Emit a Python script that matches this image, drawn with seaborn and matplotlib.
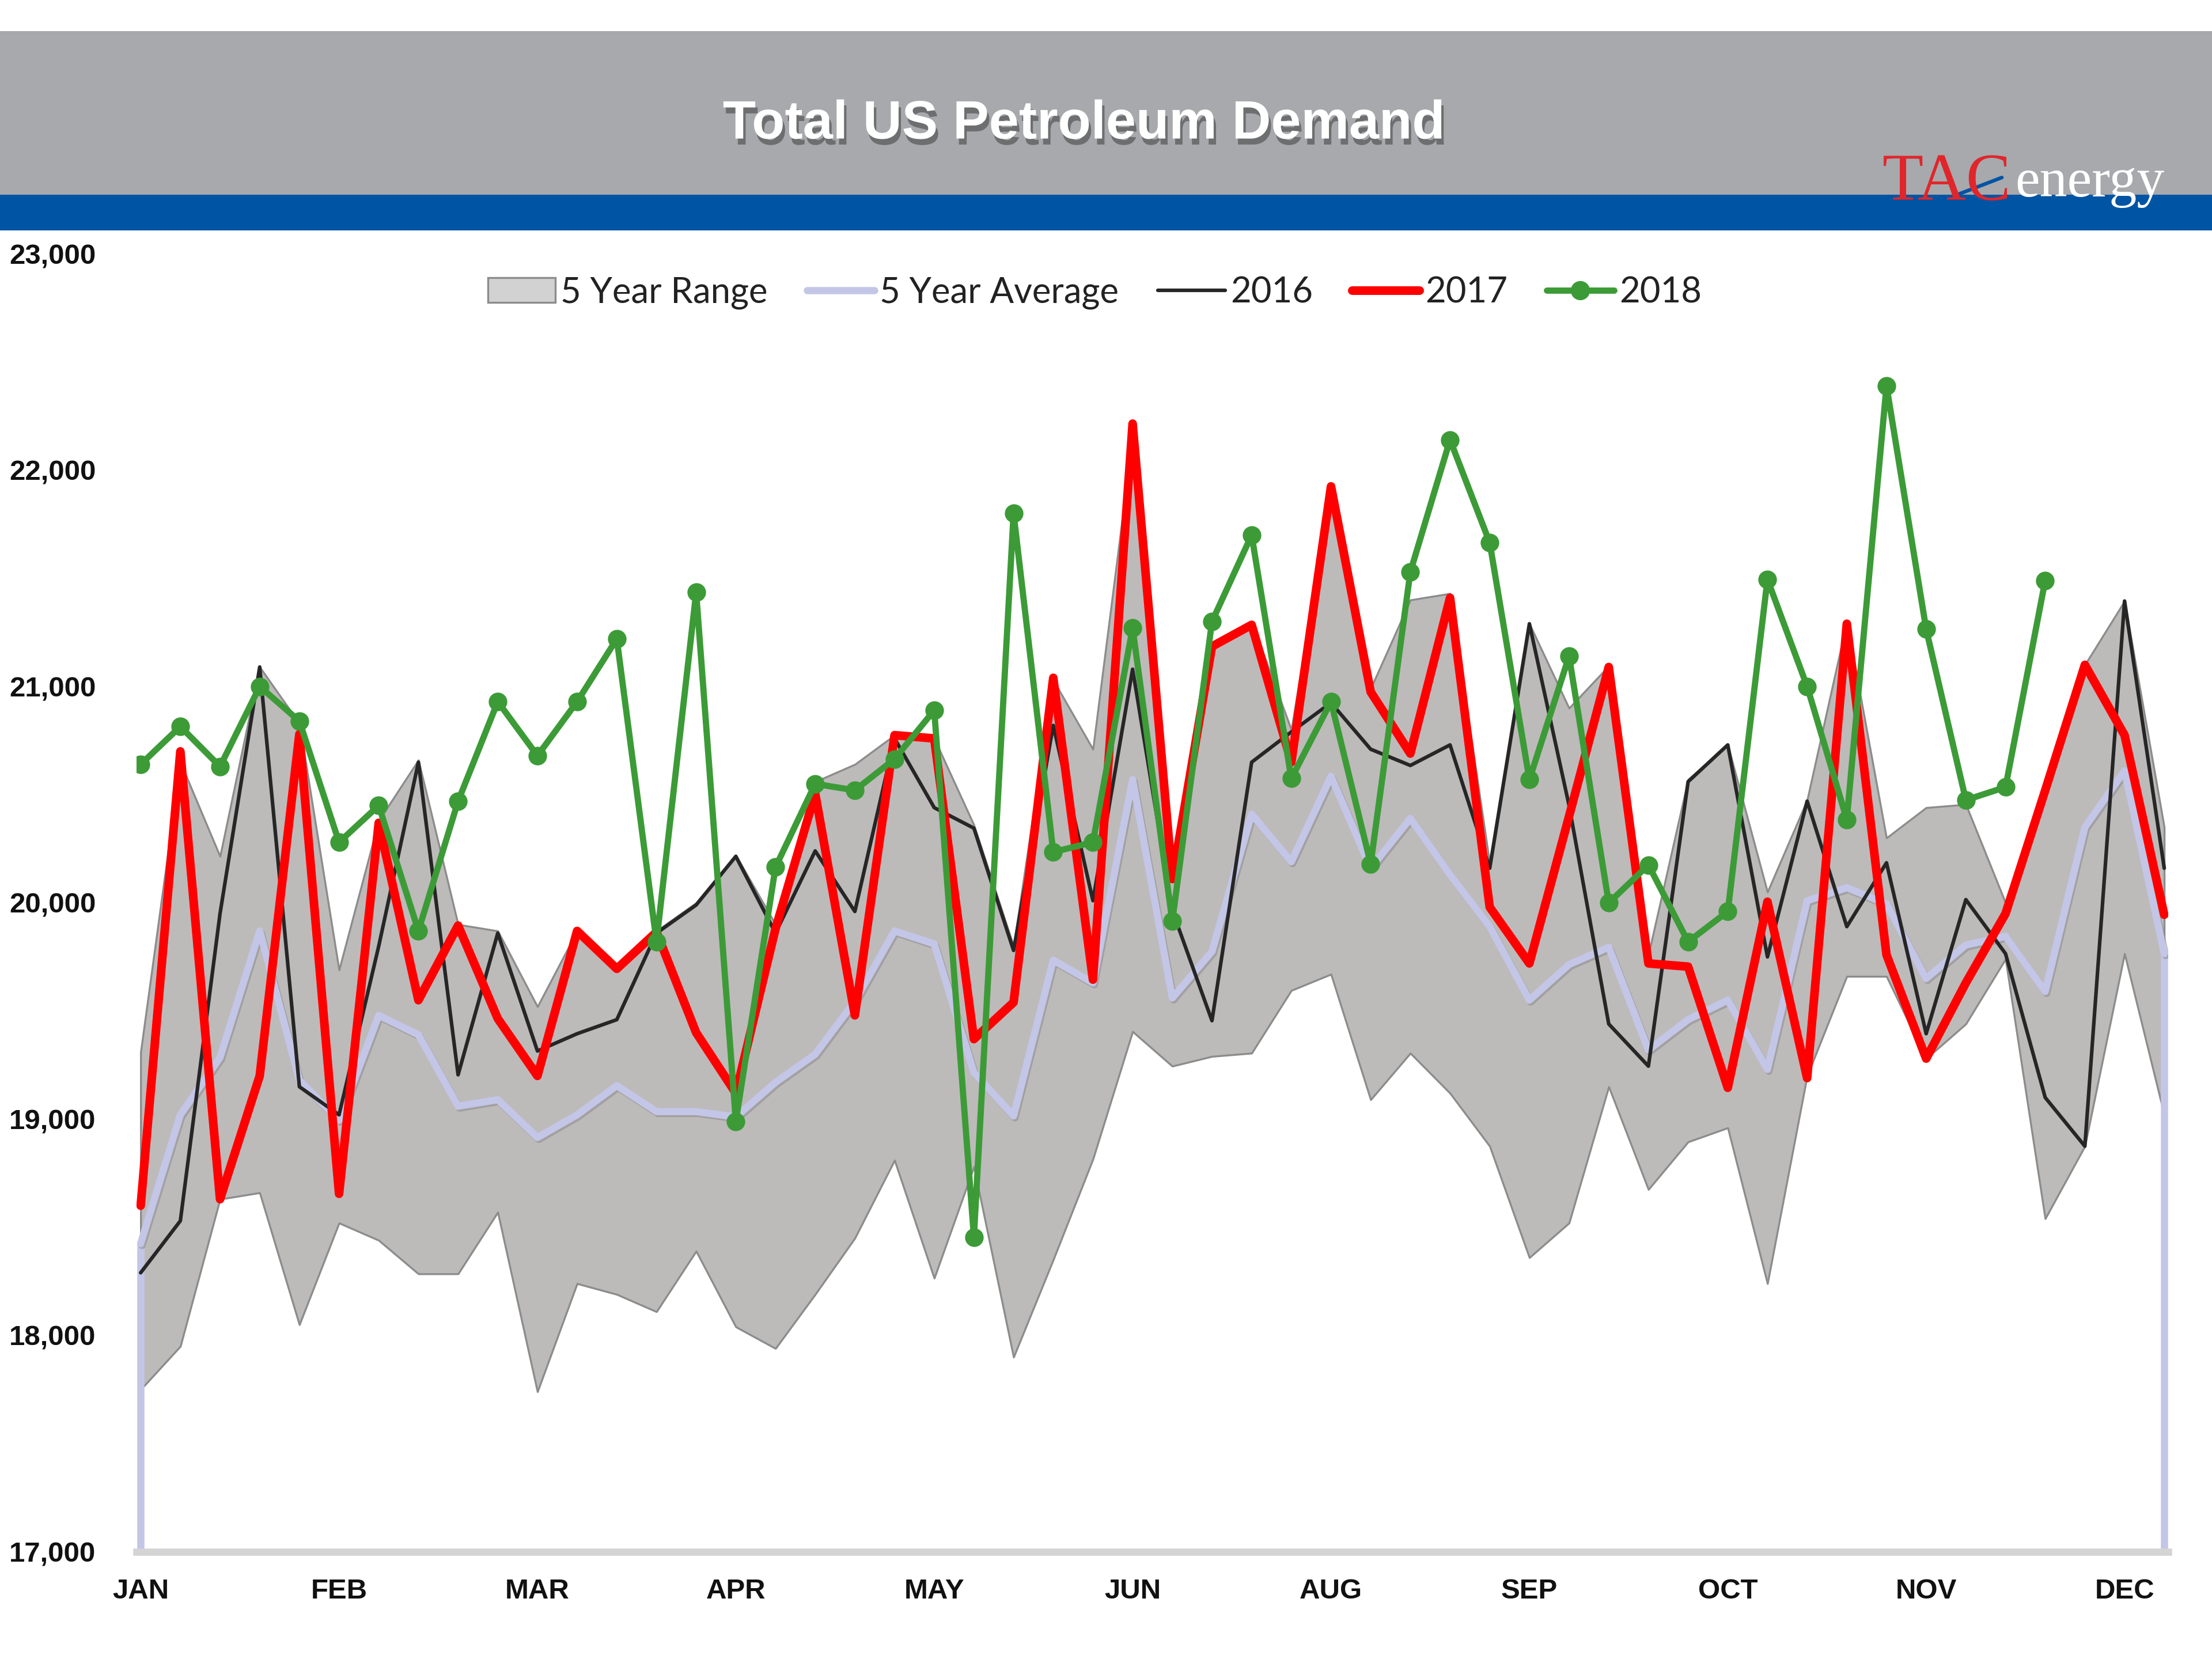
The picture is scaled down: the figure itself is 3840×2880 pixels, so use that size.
import matplotlib.pyplot as plt
import matplotlib.patheffects as pe
import pandas as pd
import seaborn as sns
from matplotlib.lines import Line2D
from matplotlib.patches import Patch, Rectangle
from matplotlib.ticker import FuncFormatter

# weekly data (52 weeks), thousand barrels per day
weeks = list(range(52))
months = ["JAN", "FEB", "MAR", "APR", "MAY", "JUN", "AUG", "SEP", "OCT", "NOV", "DEC"]  # label every 5th week

range_hi = [19310, 20650, 20215, 21090, 20830, 19690, 20380, 20660, 19900, 19870,
            19520, 19870, 19700, 19870, 20000, 20220, 19900, 20560, 20640, 20775,
            20760, 20360, 19800, 21030, 20710, 22150, 20130, 21190, 21300, 20800,
            21920, 20990, 21400, 21430, 20180, 21290, 20900, 21095, 19760, 20570,
            20730, 20050, 20475, 21300, 20300, 20440, 20455, 20000, 20530, 21100,
            21395, 20350]
range_lo = [17750, 17950, 18630, 18660, 18050, 18520, 18440, 18285, 18285, 18570,
            17740, 18240, 18190, 18110, 18390, 18040, 17940, 18190, 18450, 18810,
            18265, 18780, 17900, 18350, 18815, 19405, 19245, 19290, 19305, 19595,
            19670, 19090, 19305, 19120, 18875, 18360, 18520, 19150, 18675, 18895,
            18960, 18240, 19200, 19660, 19660, 19280, 19440, 19740, 18540, 18875,
            19765, 19020]
avg_5yr = [18425, 19020, 19285, 19870, 19180, 18995, 19480, 19390, 19060, 19090,
           18915, 19020, 19155, 19035, 19035, 19010, 19170, 19300, 19545, 19870,
           19810, 19215, 19015, 19735, 19630, 20570, 19560, 19775, 20410, 20190,
           20585, 20160, 20390, 20130, 19890, 19550, 19715, 19795, 19320, 19460,
           19550, 19230, 20010, 20070, 19995, 19650, 19805, 19845, 19590, 20350,
           20610, 19765]
y2016 = [18290, 18530, 19950, 21090, 19150, 19020, 19800, 20650, 19205, 19860,
         19315, 19395, 19460, 19860, 19990, 20215, 19860, 20240, 19960, 20760,
         20440, 20345, 19780, 20820, 20010, 21080, 19965, 19455, 20650, 20790,
         20925, 20710, 20635, 20730, 20160, 21290, 20450, 19440, 19245, 20560,
         20730, 19750, 20470, 19890, 20185, 19395, 20015, 19765, 19100, 18875,
         21395, 20160]
y2017 = [18600, 20700, 18630, 19200, 20780, 18655, 20370, 19550, 19895, 19465,
         19200, 19870, 19695, 19865, 19400, 19120, 19880, 20505, 19480, 20775,
         20760, 19370, 19540, 21040, 19645, 22215, 20110, 21185, 21285, 20650,
         21925, 20975, 20690, 21410, 19980, 19720, 20400, 21090, 19720, 19705,
         19145, 20005, 19190, 21290, 19760, 19280, 19630, 19950, 20520, 21100,
         20775, 19945]
y2018 = [20640, 20815, 20630, 21000, 20840, 20280, 20450, 19870, 20470, 20930,
         20680, 20930, 21220, 19820, 21435, 18990, 20165, 20550, 20520, 20665,
         20890, 18455, 21800, 20235, 20280, 21270, 19915, 21300, 21700, 20575,
         20930, 20180, 21530, 22140, 21665, 20570, 21140, 20000, 20175, 19820,
         19960, 21495, 21000, 20385, 22390, 21265, 20475, 20535, 21490]

Y_MIN, Y_MAX = 17000, 23000
legend_labels = ["5 Year Range", "5 Year Average", "2016", "2017", "2018"]

df = pd.DataFrame({"week": weeks, "avg": avg_5yr, "y2016": y2016, "y2017": y2017,
                   "y2018": y2018 + [None] * (len(weeks) - len(y2018))})

RANGE_C = "#bdbaba"
AVG_C = "#c3c6e6"
C2016 = "#262626"
C2017 = "#ff0000"
C2018 = "#3c9b37"

sns.set_theme(style="white")
plt.rcParams["font.family"] = ["Liberation Sans", "DejaVu Sans"]

fig = plt.figure(figsize=(12.8, 9.6), dpi=300)
fig.patch.set_facecolor("white")

# header band + blue stripe
fig.add_artist(Rectangle((0, 0.8826), 1, 0.0986, transform=fig.transFigure,
                         facecolor="#a7a9ac", edgecolor="none", zorder=0))
fig.add_artist(Rectangle((0, 0.861), 1, 0.0216, transform=fig.transFigure,
                         facecolor="#0054a4", edgecolor="none", zorder=0))
title = fig.text(0.49, 0.925, "Total US Petroleum Demand", ha="center", va="center",
                 color="white", fontsize=22.5, fontweight="bold",
                 path_effects=[pe.withSimplePatchShadow(offset=(1, -2.5), shadow_rgbFace="#555555", alpha=0.7)])
# logo
fig.text(0.851, 0.8795, "TAC", ha="left", va="baseline", color="#e0262b",
         family="Liberation Serif", fontsize=28)
fig.text(0.911, 0.8815, "energy", ha="left", va="baseline", color="white",
         family="Liberation Serif", fontsize=23)
fig.add_artist(Line2D([0.868, 0.905], [0.874, 0.893], transform=fig.transFigure,
                      color="#0054a4", lw=1.5))

ax = fig.add_axes([0.0618, 0.0646, 0.9184, 0.7824])

ax.fill_between(df["week"], range_lo, range_hi, facecolor=RANGE_C, edgecolor="#8c8c8c",
                lw=0.8, zorder=1)
# the average series drops to the axis floor at both ends in the original chart
ax.vlines([weeks[0], weeks[-1]], Y_MIN, [avg_5yr[0], avg_5yr[-1]], color=AVG_C, lw=3, zorder=2)

sns.lineplot(data=df, x="week", y="avg", ax=ax, color=AVG_C, lw=3, zorder=2, legend=False,
             path_effects=[pe.SimpleLineShadow(offset=(0.6, -0.8), shadow_color="#888888", alpha=0.5),
                           pe.Normal()])
sns.lineplot(data=df, x="week", y="y2016", ax=ax, color=C2016, lw=1.5, zorder=3, legend=False)
sns.lineplot(data=df, x="week", y="y2017", ax=ax, color=C2017, lw=3.6, zorder=4, legend=False)
sns.lineplot(data=df.dropna(), x="week", y="y2018", ax=ax, color=C2018, lw=2.6, zorder=5,
             marker="o", markersize=7, markeredgecolor=C2018, legend=False)

ax.set_xlim(-0.1, 51.1)
ax.set_ylim(Y_MIN, Y_MAX)
ax.set_xticks(weeks[::5])
ax.set_xticklabels(months)
ax.set_yticks(range(Y_MIN, Y_MAX + 1, 1000))
ax.yaxis.set_major_formatter(FuncFormatter(lambda v, p: f"{int(v):,}"))
ax.tick_params(axis="both", length=0, labelsize=11.8)
ax.tick_params(axis="y", pad=17)
ax.tick_params(axis="x", pad=11)
for lab in ax.get_xticklabels() + ax.get_yticklabels():
    lab.set_fontweight("bold")
    lab.set_color("#111111")
ax.set_xlabel("")
ax.set_ylabel("")
for s in ["top", "right", "left"]:
    ax.spines[s].set_visible(False)
ax.spines["bottom"].set_color("#d4d4d4")
ax.spines["bottom"].set_linewidth(3)
ax.grid(False)
ax.set_facecolor("white")

handles = [Patch(facecolor="#d2d2d2", edgecolor="#8c8c8c", lw=0.8),
           Line2D([], [], color=AVG_C, lw=3),
           Line2D([], [], color=C2016, lw=1.5),
           Line2D([], [], color=C2017, lw=3.6),
           Line2D([], [], color=C2018, lw=2.6, marker="o", markersize=7)]
leg = ax.legend(handles, legend_labels, loc="center", bbox_to_anchor=(0.4716, 0.97), ncol=5,
                frameon=False, handlelength=1.9, handletextpad=0.15, columnspacing=1.1,
                prop={"family": ["Lato", "DejaVu Sans"], "size": 14.8})
for t in leg.get_texts():
    t.set_color("#222222")

fig.savefig("out.png", dpi=300)
